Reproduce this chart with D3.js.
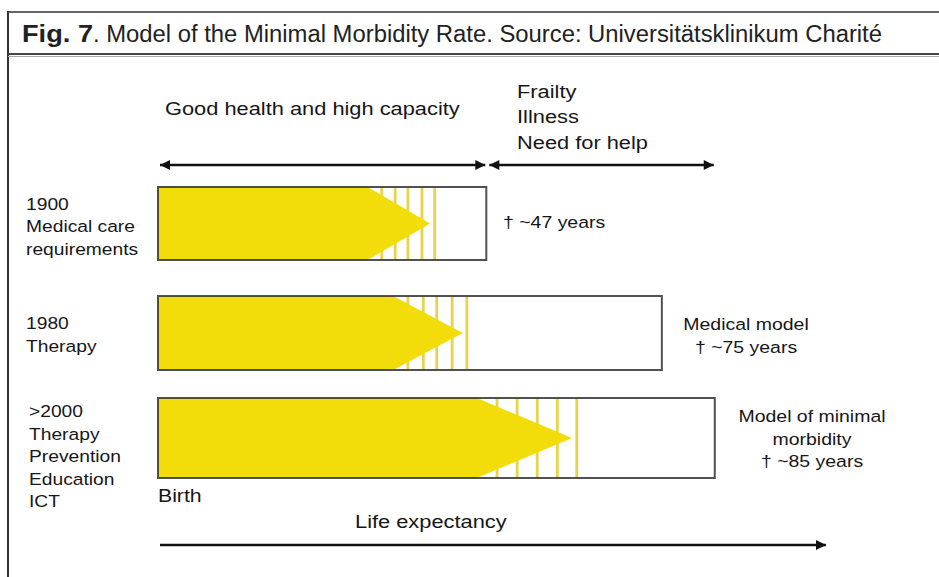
<!DOCTYPE html>
<html>
<head>
<meta charset="utf-8">
<script src="https://cdn.jsdelivr.net/npm/d3@7"></script>
<style>
  body { margin: 0; background: #fff; }
  text { font-family: 'Liberation Sans', Arial, sans-serif; fill: #161616; }
</style>
</head>
<body>
<svg></svg>
<script>
//Chart data (x values in diagram units along the life span axis)
var eras = ['1900', '1980', '>2000'];
var eraLabels = [
    ['1900', 'Medical care', 'requirements'],
    ['1980', 'Therapy'],
    ['>2000', 'Therapy', 'Prevention', 'Education', 'ICT']
];
var lifeEnd = [49.0, 75.2, 83.1];
var healthyEnd = [31.3, 35.1, 47.6];
var morbidityTip = [40.6, 45.5, 61.8];
var transitionLines = [
    [33.4, 35.4, 37.3, 39.4, 41.3],
    [37.3, 39.6, 41.6, 43.9, 46.1],
    [50.6, 53.6, 56.6, 59.6, 62.5]
];
var deathNotes = [
    ['\u2020 ~47 years'],
    ['Medical model', '\u2020 ~75 years'],
    ['Model of minimal', 'morbidity', '\u2020 ~85 years']
];
var topHealthy = 'Good health and high capacity';
var topFrail = ['Frailty', 'Illness', 'Need for help'];
var titleBold = 'Fig. 7';
var titleRest = '. Model of the Minimal Morbidity Rate. Source: Universit\u00e4tsklinikum Charit\u00e9';

//Layout
var width = 939;
var height = 577;
var rowTop = [187, 296, 398];
var rowHeight = [73, 74, 80];
var labelX = [26, 26, 29];
var labelY = [209.5, 329, 417];
var noteX = [503, 746, 812];
var noteAnchor = ['start', 'middle', 'middle'];
var noteY = [228, 330, 422];
var lineGap = 22.5;
var stretch = 1.18;

var x = d3.scaleLinear().domain([0, 100]).range([158, 828]);

var svg = d3.select('svg')
    .attr('width', width)
    .attr('height', height);

function label(sel, px, py, str, size, anchor) {
    return sel.append('text')
        .attr('transform', `translate(${px},${py}) scale(${stretch},1)`)
        .attr('font-size', size)
        .attr('text-anchor', anchor || 'start')
        .text(str);
}

//Arrow heads
var defs = svg.append('defs');
['end', 'start'].forEach(function(kind) {
    defs.append('marker')
        .attr('id', 'arrow-' + kind)
        .attr('markerUnits', 'userSpaceOnUse')
        .attr('viewBox', '0 0 10 10')
        .attr('refX', 10).attr('refY', 5)
        .attr('markerWidth', 11).attr('markerHeight', 10)
        .attr('orient', kind === 'end' ? 'auto' : 'auto-start-reverse')
        .append('path')
            .attr('d', 'M0,0 L10,5 L0,10 Z')
            .attr('fill', '#111');
});

//Frame and title
svg.append('line').attr('x1', 7).attr('x2', width).attr('y1', 12).attr('y2', 12)
    .attr('stroke', '#666').attr('stroke-width', 2);
svg.append('line').attr('x1', 8).attr('x2', 8).attr('y1', 11).attr('y2', height)
    .attr('stroke', '#333').attr('stroke-width', 2);
svg.append('line').attr('x1', 8).attr('x2', width).attr('y1', 54).attr('y2', 54)
    .attr('stroke', '#444').attr('stroke-width', 2);
svg.append('line').attr('x1', 8).attr('x2', width).attr('y1', 56.5).attr('y2', 56.5)
    .attr('stroke', '#aaa').attr('stroke-width', 1);

var titleFont = "'Liberation Sans Narrow', 'Arial Narrow', 'Liberation Sans', Arial, sans-serif";
svg.append('text')
    .attr('x', 22).attr('y', 42)
    .attr('font-size', 23).attr('font-weight', 'bold')
    .style('font-family', titleFont)
    .attr('textLength', 71).attr('lengthAdjust', 'spacingAndGlyphs')
    .style('fill', '#222')
    .text(titleBold);
svg.append('text')
    .attr('x', 93).attr('y', 42)
    .attr('font-size', 23)
    .style('font-family', titleFont)
    .attr('textLength', 789).attr('lengthAdjust', 'spacingAndGlyphs')
    .style('fill', '#222')
    .text(titleRest);

//Top span labels and arrows
label(svg, 165, 115, topHealthy, 18.5);
topFrail.forEach(function(s, i) {
    label(svg, 517, 97.5 + i * 25.5, s, 18.5);
});

svg.append('line')
    .attr('x1', x(0) + 2).attr('x2', x(lifeEnd[0]) - 1)
    .attr('y1', 165).attr('y2', 165)
    .attr('stroke', '#111').attr('stroke-width', 2.5)
    .attr('marker-start', 'url(#arrow-start)')
    .attr('marker-end', 'url(#arrow-end)');
svg.append('line')
    .attr('x1', x(lifeEnd[0]) + 3).attr('x2', x(lifeEnd[2]) - 1)
    .attr('y1', 165).attr('y2', 165)
    .attr('stroke', '#111').attr('stroke-width', 2.5)
    .attr('marker-start', 'url(#arrow-start)')
    .attr('marker-end', 'url(#arrow-end)');

//Era rows
var rows = svg.selectAll('.row').data(eras).enter().append('g').classed('row', true);

rows.each(function(era, i) {
    var g = d3.select(this);
    var top = rowTop[i];
    var bottom = top + rowHeight[i];
    var mid = (top + bottom) / 2;

    g.selectAll('.stripe').data(transitionLines[i]).enter().append('line')
        .classed('stripe', true)
        .attr('x1', d => x(d)).attr('x2', d => x(d))
        .attr('y1', top).attr('y2', bottom)
        .attr('stroke', '#e3cf3a').attr('stroke-opacity', 0.9)
        .attr('stroke-width', 2.8);

    var shape = [
        [x(0), top], [x(healthyEnd[i]), top], [x(morbidityTip[i]), mid],
        [x(healthyEnd[i]), bottom], [x(0), bottom]
    ];
    g.append('path')
        .attr('d', d3.line()(shape) + 'Z')
        .attr('fill', '#f2dd0a');

    g.append('rect')
        .attr('x', x(0)).attr('y', top)
        .attr('width', x(lifeEnd[i]) - x(0)).attr('height', rowHeight[i])
        .attr('fill', 'none')
        .attr('stroke', '#333').attr('stroke-opacity', 0.85)
        .attr('stroke-width', 2);

    eraLabels[i].forEach(function(s, j) {
        label(g, labelX[i], labelY[i] + j * lineGap, s, 16.3);
    });

    deathNotes[i].forEach(function(s, j) {
        label(g, noteX[i], noteY[i] + j * lineGap, s, 16.5, noteAnchor[i]);
    });
});

//Life expectancy axis
label(svg, x(0), 502, 'Birth', 18);
label(svg, 355, 528, 'Life expectancy', 18.5);
svg.append('line')
    .attr('x1', x(0) + 2).attr('x2', x(100) - 2)
    .attr('y1', 545).attr('y2', 545)
    .attr('stroke', '#111').attr('stroke-width', 2.5)
    .attr('marker-end', 'url(#arrow-end)');
</script>
</body>
</html>
